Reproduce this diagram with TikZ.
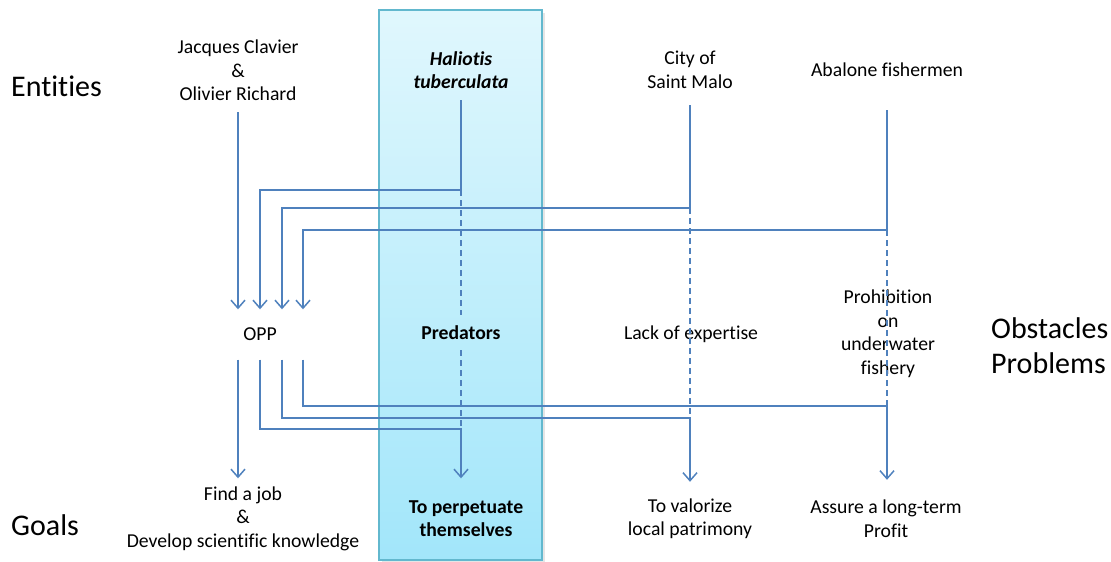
\documentclass[tikz,border=0pt]{standalone}
\usepackage{fontspec}
\setmainfont{Carlito}[Ligatures=NoCommon]
\usepackage{xcolor}
\usepackage{tikz}
\usetikzlibrary{arrows.meta}

\definecolor{lineblue}{HTML}{4F81BD}
\definecolor{bandtop}{HTML}{E0F7FD}
\definecolor{bandbot}{HTML}{A2E6FA}
\definecolor{bandedge}{HTML}{62B8CE}

\tikzset{
  txt/.style={align=center, inner sep=0pt, font=\fontsize{19.7}{23.5}\selectfont},
  entity/.style={txt, minimum height=74pt},
  goal/.style={txt, minimum height=80pt},
  head/.style={anchor=west, align=left, inner sep=0pt, font=\fontsize{30}{35}\selectfont},
  link/.style={lineblue, line width=1.5pt},
  flow/.style={link, -{Straight Barb[length=8pt,width=14pt]}},
  gap/.style={link, dash pattern=on 6pt off 4pt},
}

\begin{document}
\begin{tikzpicture}[x=1pt,y=-1pt]
  \useasboundingbox (0,0) rectangle (1111,562);
  % the species band
  \fill[black!10] (382,13) rectangle (545,563);
  \shade[top color=bandtop, bottom color=bandbot, draw=bandedge, line width=1.2pt]
    (379,10) rectangle (542,560);

  % row headings
  \node[head] (hent) at (11,86) {Entities};
  \node[head] (hobs) at (991,345.5) {Obstacles\\Problems};
  \node[head] (hgoal) at (11,525) {Goals};

  % entities
  \node[entity, minimum height=83pt] (jc) at (238,70.5) {Jacques Clavier\\\&\\Olivier Richard};
  \node[entity, minimum height=60pt, font=\fontsize{19.7}{23.5}\selectfont\bfseries\itshape] (hal) at (461,70) {Haliotis\\tuberculata};
  \node[entity, minimum height=70pt] (city) at (690,70) {City of\\Saint Malo};
  \node[entity, minimum height=80pt] (fish) at (887,70) {Abalone fishermen};

  % obstacles
  \node[txt, minimum height=50pt] (opp) at (260,334.5) {OPP};
  \node[txt, minimum height=35pt, font=\fontsize{19.7}{23.5}\selectfont\bfseries] (pred) at (461,332.5) {Predators};
  \node[txt] (lack) at (691,334) {Lack of expertise};
  \node[txt] (proh) at (888,333.5) {Prohibition\\on\\underwater\\fishery};

  % goals
  \node[goal] (find) at (243,518.5) {Find a job\\\&\\Develop scientific knowledge};
  \node[goal, font=\fontsize{19.7}{23.5}\selectfont\bfseries] (perp) at (466,518.5) {To perpetuate\\themselves};
  \node[goal, minimum height=73pt] (valo) at (690,518.5) {To valorize\\local patrimony};
  \node[goal, minimum height=77pt] (prof) at (886,518.5) {Assure a long-term\\Profit};

  % junctions
  \coordinate (hj) at (461,190);
  \coordinate (cj) at (690,208);
  \coordinate (fj) at (887,230);
  \coordinate (hb) at (461,429);
  \coordinate (cb) at (690,418);
  \coordinate (fb) at (887,406);

  % entities to OPP
  \draw[flow] (jc.south) -- (jc.south |- opp.north);
  \draw[flow] (hal.south) -- (hj) -| (opp.north);
  \draw[flow] (city.south) -- (cj) -| ([xshift=22pt]opp.north);
  \draw[flow] (fish.south) -- (fj) -| ([xshift=43pt]opp.north);

  % through the obstacles
  \draw[gap] (hj) -- (pred.north);
  \draw[gap] (pred.south) -- (hb);
  \draw[gap] (cj) -- (cb);
  \draw[gap] (fj) -- (fb);

  % OPP to the goals
  \draw[flow] (opp.south -| jc.south) -- (jc.south |- find.north);
  \draw[flow] (opp.south) |- (hb) -- (hal.south |- perp.north);
  \draw[flow] ([xshift=22pt]opp.south) |- (cb) -- (valo.north -| cb);
  \draw[flow] ([xshift=43pt]opp.south) |- (fb) -- (prof.north -| fb);
\end{tikzpicture}
\end{document}
